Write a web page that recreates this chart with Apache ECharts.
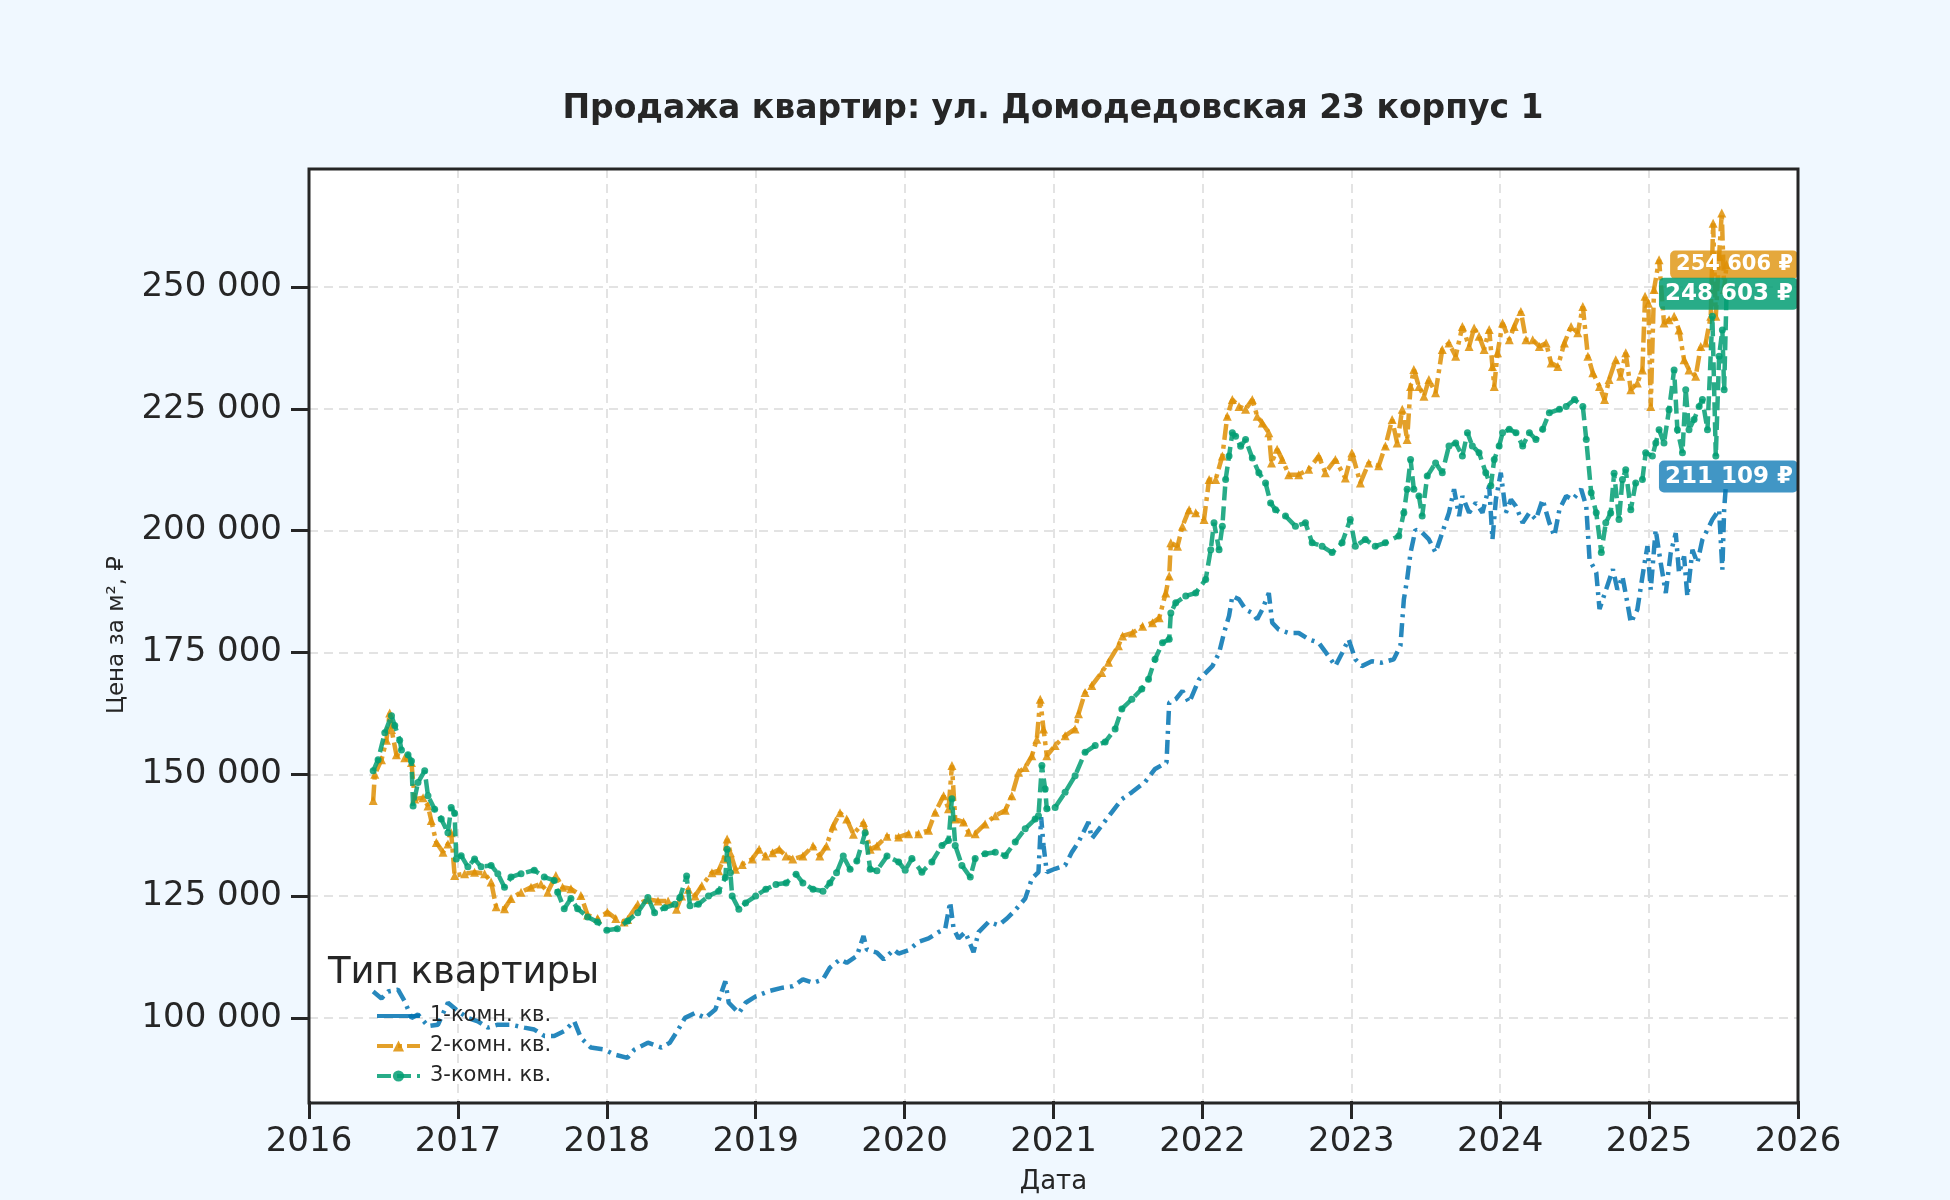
<!DOCTYPE html>
<html lang="ru">
<head>
  <meta charset="UTF-8">
  <title>Продажа квартир</title>
  <script src="https://cdn.jsdelivr.net/npm/echarts@6.0.0/dist/echarts.min.js"></script>
  <style>
    html, body {margin: 0; padding: 0; background: #f0f8ff;}
    #chart {width: 1950px; height: 1200px;}
  </style>
</head>
<body>
  <div id="chart"></div>
  <script>
    // подписи и оси
    var chartTitle = 'Продажа квартир: ул. Домодедовская 23 корпус 1';
    var seriesNames = ['1-комн. кв.', '2-комн. кв.', '3-комн. кв.'];
    var yTicks = [100000, 125000, 150000, 175000, 200000, 225000, 250000];
    var lastValues = [211109, 254606, 248603];

    // [год, цена за м²]
    var oneRoom = [
      [2016.431,105400],[2016.487,104000],[2016.531,105400],[2016.598,105800],[2016.643,103400],[2016.688,100000],
      [2016.732,100700],[2016.799,98300],[2016.866,98600],[2016.933,103100],[2017.0,101400],[2017.067,100000],
      [2017.134,99300],[2017.201,98000],[2017.268,98600],[2017.357,98600],[2017.446,98000],[2017.513,97600],
      [2017.580,96300],[2017.647,96300],[2017.714,97300],[2017.781,99300],[2017.826,95900],[2017.893,93900],
      [2017.982,93500],[2018.049,92500],[2018.138,91800],[2018.186,93500],[2018.276,94900],[2018.367,93900],
      [2018.423,94900],[2018.480,97600],[2018.525,100000],[2018.593,101000],[2018.661,100000],[2018.729,101700],
      [2018.796,107500],[2018.819,103100],[2018.887,101000],[2018.932,103100],[2019.0,104400],[2019.090,105500],
      [2019.181,106200],[2019.249,106500],[2019.317,107900],[2019.385,107200],[2019.452,107900],[2019.498,110300],
      [2019.566,112000],[2019.611,111300],[2019.679,112700],[2019.724,116800],[2019.747,114000],[2019.814,113400],
      [2019.860,112000],[2019.928,114000],[2019.960,113200],[2020.027,113900],[2020.094,115600],[2020.161,116300],
      [2020.228,117600],[2020.273,118300],[2020.306,123800],[2020.329,118300],[2020.362,116300],[2020.407,117600],
      [2020.463,113500],[2020.497,117600],[2020.564,119700],[2020.631,119000],[2020.687,120400],[2020.743,122100],
      [2020.810,124500],[2020.855,128600],[2020.899,129900],[2020.917,141200],[2020.933,135400],[2020.955,129900],
      [2021.011,130600],[2021.078,131300],[2021.123,134000],[2021.168,136100],[2021.235,140200],[2021.257,136800],
      [2021.324,139500],[2021.391,142200],[2021.459,144900],[2021.526,146300],[2021.615,148400],[2021.682,151100],
      [2021.759,152400],[2021.777,164700],[2021.821,165400],[2021.866,167100],[2021.911,164700],[2021.978,169500],
      [2022.022,170800],[2022.067,172200],[2022.112,174900],[2022.145,179000],[2022.179,182500],[2022.201,186600],
      [2022.246,185900],[2022.290,183800],[2022.335,183100],[2022.368,181800],[2022.402,183800],[2022.446,187200],
      [2022.469,181100],[2022.513,179700],[2022.580,179000],[2022.647,179000],[2022.714,177700],[2022.781,177000],
      [2022.848,174200],[2022.893,172200],[2022.938,174900],[2022.982,177700],[2023.027,173600],[2023.071,172200],
      [2023.138,173200],[2023.205,172900],[2023.285,173600],[2023.330,176400],[2023.353,185900],[2023.375,190000],
      [2023.398,195500],[2023.431,200200],[2023.476,199600],[2023.521,198200],[2023.566,195500],[2023.611,199600],
      [2023.656,203700],[2023.690,208500],[2023.724,203000],[2023.746,207100],[2023.791,203700],[2023.836,205700],
      [2023.881,203700],[2023.926,209200],[2023.948,198200],[2023.971,206400],[2024.004,211900],[2024.038,203700],
      [2024.072,206400],[2024.106,205000],[2024.151,201600],[2024.196,203700],[2024.240,202300],[2024.285,206400],
      [2024.330,201600],[2024.364,198900],[2024.398,204400],[2024.443,207100],[2024.488,206400],[2024.544,208500],
      [2024.578,205000],[2024.600,194100],[2024.645,191400],[2024.667,183900],[2024.712,188000],[2024.757,192100],
      [2024.787,187900],[2024.821,190600],[2024.854,185200],[2024.877,181100],[2024.921,183800],[2024.966,192700],
      [2024.989,196800],[2025.011,187900],[2025.044,200200],[2025.078,193400],[2025.112,187200],[2025.145,195400],
      [2025.179,199500],[2025.201,191300],[2025.235,194700],[2025.257,186500],[2025.291,196100],[2025.324,193400],
      [2025.358,198200],[2025.392,200200],[2025.425,202300],[2025.470,204300],[2025.492,192000],[2025.504,204300],
      [2025.520,211109]
    ];

    var twoRoom = [
      [2016.431,144600],[2016.442,150000],[2016.487,153000],[2016.520,157000],[2016.542,162600],[2016.554,159200],
      [2016.587,154000],[2016.643,153400],[2016.688,152400],[2016.710,144900],[2016.766,145200],[2016.799,143500],
      [2016.821,140500],[2016.855,136000],[2016.900,134000],[2016.933,135700],[2016.955,138000],[2016.978,129200],
      [2017.045,129600],[2017.112,129900],[2017.179,129600],[2017.223,127900],[2017.257,122800],[2017.313,122400],
      [2017.357,124500],[2017.424,125800],[2017.491,126800],[2017.558,127500],[2017.603,125800],[2017.658,129200],
      [2017.703,126800],[2017.759,126500],[2017.826,125100],[2017.871,121100],[2017.938,120400],[2018.004,121700],
      [2018.060,120400],[2018.116,119700],[2018.140,120200],[2018.208,123300],[2018.276,124300],[2018.344,124000],
      [2018.412,124000],[2018.468,122300],[2018.502,125000],[2018.548,126400],[2018.593,125000],[2018.638,127100],
      [2018.706,129800],[2018.751,130200],[2018.785,132600],[2018.808,136700],[2018.830,133900],[2018.864,130500],
      [2018.910,131500],[2018.977,132600],[2019.023,134600],[2019.068,133200],[2019.113,133900],[2019.158,134600],
      [2019.204,133200],[2019.249,132600],[2019.317,133200],[2019.385,135300],[2019.430,133200],[2019.475,135300],
      [2019.520,139400],[2019.566,142100],[2019.611,140800],[2019.656,137700],[2019.724,140100],[2019.769,134600],
      [2019.814,135300],[2019.882,137300],[2019.960,137100],[2020.027,137800],[2020.094,137800],[2020.161,138500],
      [2020.206,142200],[2020.262,145600],[2020.295,142900],[2020.318,151800],[2020.340,140800],[2020.396,140200],
      [2020.430,138100],[2020.474,137800],[2020.541,139800],[2020.609,141500],[2020.676,142600],[2020.720,145600],
      [2020.765,150400],[2020.810,151400],[2020.855,153800],[2020.888,157200],[2020.911,165400],[2020.933,159300],
      [2020.955,153800],[2021.011,155900],[2021.078,157900],[2021.145,159300],[2021.168,162400],[2021.212,166800],
      [2021.257,168200],[2021.324,170900],[2021.369,173000],[2021.436,176400],[2021.464,178400],[2021.531,179000],
      [2021.598,180400],[2021.665,181100],[2021.710,182100],[2021.754,187200],[2021.777,190700],[2021.788,197500],
      [2021.833,196800],[2021.866,200900],[2021.911,204300],[2021.955,203700],[2022.011,202300],[2022.045,210500],
      [2022.089,210500],[2022.134,215300],[2022.167,223500],[2022.201,226900],[2022.246,225500],[2022.290,224900],
      [2022.335,226900],[2022.368,223500],[2022.402,222100],[2022.446,220100],[2022.464,213900],[2022.502,216700],
      [2022.536,214600],[2022.580,211500],[2022.647,211500],[2022.714,212600],[2022.781,215300],[2022.826,211900],
      [2022.893,214600],[2022.960,210800],[2023.004,216000],[2023.061,209800],[2023.117,213900],[2023.184,213300],
      [2023.229,217400],[2023.274,222800],[2023.308,218000],[2023.342,224900],[2023.375,218700],[2023.398,229600],
      [2023.420,233100],[2023.454,229600],[2023.488,227600],[2023.521,231000],[2023.566,228300],[2023.611,237200],
      [2023.656,238500],[2023.701,235800],[2023.746,241900],[2023.791,237800],[2023.825,241600],[2023.858,239900],
      [2023.892,237200],[2023.926,241300],[2023.948,233700],[2023.960,229600],[2023.982,236500],[2024.016,242600],
      [2024.061,239200],[2024.094,241900],[2024.139,245000],[2024.173,239200],[2024.218,239200],[2024.263,237800],
      [2024.308,238500],[2024.342,234400],[2024.387,233700],[2024.431,238500],[2024.476,241900],[2024.521,240600],
      [2024.555,246000],[2024.589,235800],[2024.622,232400],[2024.667,229600],[2024.701,226900],[2024.731,231000],
      [2024.776,235100],[2024.809,231700],[2024.843,236500],[2024.877,228900],[2024.921,230300],[2024.955,233000],
      [2024.973,248100],[2024.995,246700],[2025.011,225500],[2025.033,249500],[2025.067,255600],[2025.100,242600],
      [2025.134,243300],[2025.168,244000],[2025.201,241200],[2025.235,235100],[2025.268,233000],[2025.313,231700],
      [2025.347,237800],[2025.380,238500],[2025.414,244000],[2025.430,263100],[2025.448,244000],[2025.470,256300],
      [2025.488,265200],[2025.504,249500],[2025.520,254606]
    ];

    var threeRoom = [
      [2016.431,150700],[2016.464,153000],[2016.509,158500],[2016.554,162000],[2016.576,160000],[2016.609,157000],
      [2016.621,155000],[2016.665,154000],[2016.688,152700],[2016.699,143500],[2016.732,148300],[2016.777,150700],
      [2016.799,145600],[2016.844,142800],[2016.888,140800],[2016.933,138000],[2016.955,143200],[2016.978,142000],
      [2016.989,132600],[2017.022,133300],[2017.067,131000],[2017.112,132600],[2017.156,131000],[2017.223,131300],
      [2017.268,129600],[2017.313,126800],[2017.357,128900],[2017.424,129600],[2017.513,130300],[2017.580,128900],
      [2017.647,128200],[2017.670,125800],[2017.714,122400],[2017.759,124500],[2017.804,122400],[2017.871,120700],
      [2017.938,119700],[2018.0,118000],[2018.071,118300],[2018.140,119900],[2018.208,121600],[2018.276,124700],
      [2018.321,121600],[2018.389,122600],[2018.457,123300],[2018.491,124700],[2018.536,129100],[2018.559,123000],
      [2018.615,123300],[2018.683,125000],[2018.751,126000],[2018.796,128800],[2018.808,134600],[2018.830,129800],
      [2018.842,125000],[2018.887,122300],[2018.932,123600],[2019.0,125000],[2019.068,126400],[2019.136,127400],
      [2019.204,127700],[2019.271,129500],[2019.317,127700],[2019.385,126400],[2019.452,126000],[2019.498,127700],
      [2019.543,129800],[2019.588,133200],[2019.634,130500],[2019.679,132200],[2019.735,138000],[2019.769,130500],
      [2019.814,130200],[2019.882,133200],[2019.960,132000],[2020.004,130300],[2020.049,132700],[2020.116,129900],
      [2020.183,132000],[2020.251,135400],[2020.295,136400],[2020.318,145000],[2020.340,135400],[2020.385,131300],
      [2020.441,128900],[2020.474,132700],[2020.541,133700],[2020.609,134000],[2020.676,133300],[2020.743,136100],
      [2020.810,138800],[2020.877,140800],[2020.899,141500],[2020.922,151800],[2020.944,147000],[2020.955,142900],
      [2021.011,143200],[2021.078,146300],[2021.145,149700],[2021.212,154500],[2021.280,155900],[2021.347,156600],
      [2021.414,159300],[2021.459,163400],[2021.526,165400],[2021.593,167500],[2021.638,169500],[2021.682,173600],
      [2021.732,177000],[2021.777,177700],[2021.788,183100],[2021.821,185200],[2021.888,186600],[2021.955,187200],
      [2022.022,190000],[2022.056,196100],[2022.078,201600],[2022.112,196100],[2022.134,200900],[2022.156,210500],
      [2022.179,215300],[2022.201,220100],[2022.223,219400],[2022.257,217300],[2022.290,218700],[2022.335,214900],
      [2022.379,211900],[2022.424,209800],[2022.458,205700],[2022.491,204300],[2022.558,203000],[2022.625,200900],
      [2022.692,201600],[2022.737,197500],[2022.804,196800],[2022.871,195500],[2022.938,197500],[2022.993,202300],
      [2023.027,196800],[2023.094,198200],[2023.161,196800],[2023.228,197500],[2023.319,198900],[2023.353,203700],
      [2023.375,208500],[2023.398,214600],[2023.420,208500],[2023.454,207100],[2023.476,203000],[2023.510,211200],
      [2023.566,213900],[2023.611,211900],[2023.656,217400],[2023.701,218000],[2023.746,215300],[2023.780,220100],
      [2023.813,217400],[2023.858,216000],[2023.903,211900],[2023.937,209200],[2023.960,214600],[2023.993,217400],
      [2024.016,220100],[2024.061,220800],[2024.106,220100],[2024.151,217400],[2024.196,220100],[2024.240,218700],
      [2024.285,220800],[2024.330,224200],[2024.398,224900],[2024.443,225500],[2024.499,226900],[2024.555,225500],
      [2024.578,218700],[2024.611,207800],[2024.645,203700],[2024.679,195500],[2024.709,201600],[2024.742,203600],
      [2024.765,211800],[2024.798,202300],[2024.821,210500],[2024.843,212500],[2024.877,204300],[2024.910,209800],
      [2024.955,210500],[2024.977,216000],[2025.022,215300],[2025.045,218000],[2025.067,220700],[2025.100,218000],
      [2025.134,224800],[2025.168,233000],[2025.190,220700],[2025.224,216000],[2025.246,228900],[2025.268,220700],
      [2025.302,222800],[2025.336,225500],[2025.358,226900],[2025.392,220700],[2025.425,244000],[2025.448,215300],
      [2025.470,235800],[2025.492,241200],[2025.504,228900],[2025.520,248603]
    ];

    var colors = ['#0173b2', '#de8f05', '#029e73'];
    var labelBg = ['rgba(1,115,178,0.75)', 'rgba(222,143,5,0.78)', 'rgba(2,158,115,0.85)'];
    var font = 'DejaVu Sans';
    var plot = {left: 309, top: 169, width: 1489, height: 934};

    // 250000 -> "250 000"
    function fmt(v){
      return String(Math.round(v)).replace(/\B(?=(\d{3})+(?!\d))/g, ' ');
    }

    function endMark(i, size, pad){
      return {
        symbol: 'rect',
        symbolSize: 0,
        silent: true,
        animation: false,
        data: [{coord: [2026, lastValues[i]], value: lastValues[i]}],
        label: {
          show: true,
          position: 'left',
          distance: 0,
          formatter: function(p){ return fmt(p.value) + ' ₽'; },
          color: '#fff',
          fontFamily: font,
          fontWeight: 'bold',
          fontSize: size,
          backgroundColor: labelBg[i],
          borderRadius: 5,
          padding: pad
        }
      };
    }

    var chart = echarts.init(document.getElementById('chart'));
    var option = {
      backgroundColor: '#f0f8ff',
      animation: false,
      textStyle: {fontFamily: font},
      title: [{
        text: chartTitle,
        left: 1048,
        top: 88,
        textAlign: 'center',
        textStyle: {fontFamily: font, fontSize: 33, fontWeight: 'bold', color: '#262626'}
      }, {
        text: 'Тип квартиры',
        left: 323,
        top: 950,
        textStyle: {fontFamily: font, fontSize: 37, fontWeight: 'normal', color: '#262626'}
      }],
      legend: {
        orient: 'vertical',
        left: 370,
        top: 1000,
        itemWidth: 43,
        itemHeight: 14,
        itemGap: 8,
        lineStyle: {width: 4},
        data: [
          {name: seriesNames[0], itemStyle: {opacity: 0}, lineStyle: {type: 'solid', width: 4}},
          {name: seriesNames[1]},
          {name: seriesNames[2]}
        ],
        textStyle: {fontFamily: font, fontSize: 21, color: '#262626', lineHeight: 22, padding: [0, 0, 0, 5]}
      },
      grid: {
        left: plot.left,
        top: plot.top,
        width: plot.width,
        height: plot.height,
        show: true,
        backgroundColor: '#ffffff',
        borderWidth: 0
      },
      // рамка поверх линий сетки
      graphic: [{
        type: 'rect',
        silent: true,
        z: 100,
        shape: {x: plot.left, y: plot.top, width: plot.width, height: plot.height},
        style: {fill: 'none', stroke: '#262626', lineWidth: 3}
      }],
      xAxis: {
        type: 'value',
        min: 2016,
        max: 2026,
        interval: 1,
        name: 'Дата',
        nameLocation: 'middle',
        nameGap: 68,
        nameTextStyle: {fontFamily: font, fontSize: 26, color: '#262626'},
        axisLine: {show: false},
        axisTick: {show: true, length: 18, lineStyle: {color: '#262626', width: 3}},
        axisLabel: {
          margin: 24,
          fontFamily: font,
          fontSize: 34,
          color: '#262626',
          formatter: function(v){ return String(v); }
        },
        splitLine: {show: true, lineStyle: {color: '#e3e3e3', width: 2, type: [9, 6]}}
      },
      yAxis: {
        type: 'value',
        min: 82940,
        max: 274230,
        name: 'Цена за м², ₽',
        nameLocation: 'middle',
        nameGap: 180,
        nameTextStyle: {fontFamily: font, fontSize: 23, color: '#262626'},
        axisLine: {show: false},
        axisTick: {show: true, length: 18, customValues: yTicks, lineStyle: {color: '#262626', width: 3}},
        axisLabel: {
          margin: 27,
          fontFamily: font,
          fontSize: 34,
          color: '#262626',
          customValues: yTicks,
          formatter: function(v){ return fmt(v); }
        },
        splitLine: {show: true, lineStyle: {color: '#e3e3e3', width: 2, type: [9, 6]}}
      },
      series: [{
        name: seriesNames[0],
        type: 'line',
        data: oneRoom,
        showSymbol: false,
        symbol: 'none',
        color: colors[0],
        lineStyle: {width: 4.5, opacity: 0.85, type: [14, 6, 3, 6]},
        markPoint: endMark(0, 23, [5, 5, 4, 6]),
        z: 2
      }, {
        name: seriesNames[1],
        type: 'line',
        data: twoRoom,
        symbol: 'triangle',
        symbolSize: 9,
        color: colors[1],
        itemStyle: {opacity: 0.85},
        lineStyle: {width: 4.5, opacity: 0.85, type: [16, 5, 4, 5]},
        markPoint: endMark(1, 21, [4, 5, 3, 6]),
        z: 3
      }, {
        name: seriesNames[2],
        type: 'line',
        data: threeRoom,
        symbol: 'circle',
        symbolSize: 7,
        color: colors[2],
        itemStyle: {opacity: 0.85},
        lineStyle: {width: 4.5, opacity: 0.85, type: [14, 6]},
        markPoint: endMark(2, 23, [5, 5, 4, 6]),
        z: 4
      }]
    };
    chart.setOption(option);
  </script>
</body>
</html>
